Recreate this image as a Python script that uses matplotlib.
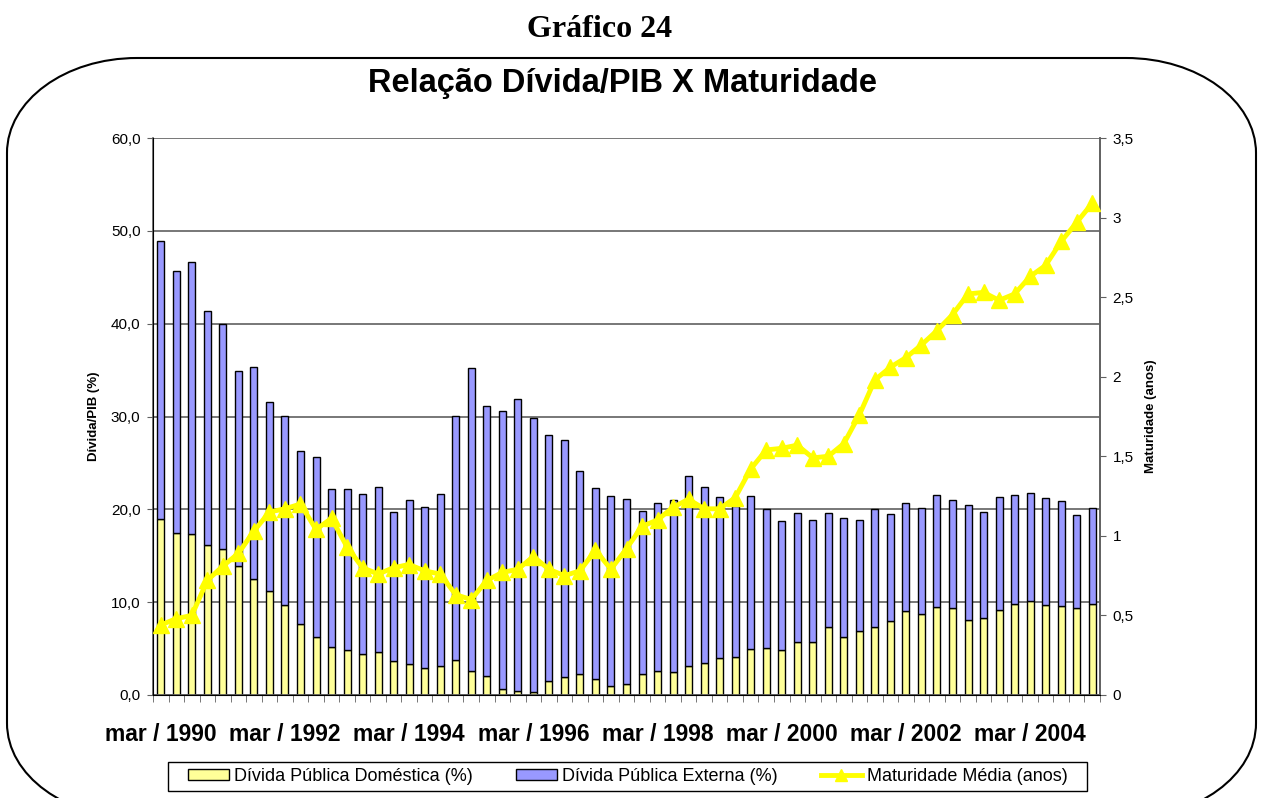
import numpy as np
import matplotlib
matplotlib.use('Agg')
from matplotlib import pyplot as plt
from matplotlib.patches import PathPatch, Rectangle
from matplotlib.path import Path
from matplotlib.lines import Line2D
from matplotlib.transforms import IdentityTransform

plt.rcParams['font.family'] = ['Liberation Sans', 'DejaVu Sans']

# quarterly data, mar/1990 .. mar/2005
months = ['mar', 'jun', 'set', 'dez']
quarters = ['%s / %d' % (months[i % 4], 1990 + i // 4) for i in range(61)]

domestica = [19.0, 17.5, 17.3, 16.2, 15.7, 13.9, 12.5, 11.2, 9.7, 7.6,
             6.2, 5.2, 4.8, 4.4, 4.6, 3.7, 3.3, 2.9, 3.1, 3.8,
             2.6, 2.1, 0.7, 0.4, 0.3, 1.5, 1.9, 2.3, 1.7, 1.0,
             1.2, 2.3, 2.6, 2.5, 3.1, 3.5, 4.0, 4.1, 5.0, 5.1,
             4.8, 5.7, 5.7, 7.3, 6.2, 6.9, 7.3, 8.0, 9.0, 8.7,
             9.5, 9.4, 8.1, 8.3, 9.2, 9.8, 10.1, 9.7, 9.6, 9.4,
             9.8]
externa = [29.9, 28.2, 29.3, 25.2, 24.3, 21.0, 22.8, 20.4, 20.4, 18.7,
           19.4, 17.0, 17.4, 17.3, 17.8, 16.0, 17.7, 17.3, 18.5, 26.3,
           32.6, 29.0, 29.9, 31.5, 29.5, 26.5, 25.6, 21.8, 20.6, 20.4,
           19.9, 17.5, 18.1, 18.5, 20.5, 18.9, 17.3, 16.3, 16.4, 14.9,
           13.9, 13.9, 13.2, 12.3, 12.9, 11.9, 12.7, 11.5, 11.7, 11.4,
           12.0, 11.6, 12.4, 11.4, 12.1, 11.7, 11.7, 11.5, 11.3, 10.0,
           10.3]
maturidade = [0.44, 0.48, 0.50, 0.72, 0.81, 0.89, 1.03, 1.15, 1.17, 1.20,
              1.04, 1.11, 0.93, 0.80, 0.76, 0.80, 0.82, 0.78, 0.76, 0.63,
              0.60, 0.72, 0.77, 0.79, 0.87, 0.79, 0.75, 0.78, 0.91, 0.79,
              0.92, 1.06, 1.10, 1.18, 1.23, 1.17, 1.17, 1.24, 1.42, 1.54,
              1.55, 1.57, 1.49, 1.50, 1.58, 1.76, 1.98, 2.06, 2.12, 2.20,
              2.29, 2.39, 2.52, 2.53, 2.48, 2.52, 2.63, 2.70, 2.85, 2.97,
              3.09]

c_dom = '#FFFF99'
c_ext = '#9999FF'
c_mat = '#FFFF00'
c_axis = '#606060'

W, H = 1261, 798
fig = plt.figure(figsize=(W / 100, H / 100), dpi=100)


def rounded_frame(x0, y0, x1, y1, rx, ry):
    # rectangle with elliptical corners, pixel coords
    k = 0.5523
    verts = [(x0 + rx, y0), (x1 - rx, y0),
             (x1 - rx + k * rx, y0), (x1, y0 + ry - k * ry), (x1, y0 + ry),
             (x1, y1 - ry),
             (x1, y1 - ry + k * ry), (x1 - rx + k * rx, y1), (x1 - rx, y1),
             (x0 + rx, y1),
             (x0 + rx - k * rx, y1), (x0, y1 - ry + k * ry), (x0, y1 - ry),
             (x0, y0 + ry),
             (x0, y0 + ry - k * ry), (x0 + rx - k * rx, y0), (x0 + rx, y0)]
    codes = [Path.MOVETO, Path.LINETO,
             Path.CURVE4, Path.CURVE4, Path.CURVE4,
             Path.LINETO,
             Path.CURVE4, Path.CURVE4, Path.CURVE4,
             Path.LINETO,
             Path.CURVE4, Path.CURVE4, Path.CURVE4,
             Path.LINETO,
             Path.CURVE4, Path.CURVE4, Path.CURVE4]
    return Path(verts, codes)


frame = PathPatch(rounded_frame(7, -20, 1256, 740, 130, 95), transform=IdentityTransform(),
                  facecolor='none', edgecolor='black', linewidth=1.5)
fig.patches.append(frame)

fig.text(600 / W, 1 - 37 / H, 'Gráfico 24', ha='center', va='baseline',
         fontsize=23, fontweight='bold', family=['Liberation Serif', 'DejaVu Serif'])
fig.text(623 / W, 1 - 92 / H, 'Relação Dívida/PIB X Maturidade', ha='center', va='baseline',
         fontsize=23.5, fontweight='bold')

ax = fig.add_axes([153 / W, 103 / H, 947 / W, 557 / H])
x = np.arange(len(quarters))
w = 0.45
ax.bar(x, domestica, w, color=c_dom, edgecolor='black', linewidth=1, zorder=2)
ax.bar(x, externa, w, bottom=domestica, color=c_ext, edgecolor='black', linewidth=1, zorder=2)

ax.set_xlim(-0.5, len(quarters) - 0.5)
ax.set_ylim(0, 60)
ax.set_yticks(np.arange(0, 61, 10))
ax.yaxis.set_major_formatter(plt.FuncFormatter(lambda v, p: ('%.1f' % v).replace('.', ',')))
ax.grid(axis='y', color=c_axis, linewidth=1.2, zorder=0)
ax.set_axisbelow(True)
ax.set_ylabel('Dívida/PIB (%)', fontsize=9.5, fontweight='bold', labelpad=8)
ax.tick_params(axis='y', labelsize=11, direction='out', length=4, pad=5, color=c_axis)

ax.set_xticks(x[::8])
ax.set_xticklabels(quarters[::8], fontsize=16.5, fontweight='bold')
ax.set_xticks(np.arange(-0.5, len(quarters), 1), minor=True)
ax.tick_params(axis='x', which='major', length=0, pad=20)
ax.tick_params(axis='x', which='minor', length=5, direction='out', color=c_axis)

ax.spines['top'].set_visible(False)
for s in ['left', 'bottom', 'right']:
    ax.spines[s].set_color(c_axis)
    ax.spines[s].set_linewidth(1.2)

ax2 = ax.twinx()
ax2.plot(x, maturidade, color=c_mat, linewidth=3.5, marker='^', markersize=11,
         markeredgecolor=c_mat, zorder=3)
ax2.set_ylim(0, 3.5)
ax2.set_yticks(np.arange(0, 3.51, 0.5))
ax2.yaxis.set_major_formatter(plt.FuncFormatter(lambda v, p: ('%g' % v).replace('.', ',')))
ax2.tick_params(axis='y', labelsize=11, direction='out', length=4, pad=5, color=c_axis)
ax2.set_ylabel('Maturidade (anos)', fontsize=9.5, fontweight='bold', labelpad=8)
ax2.spines['top'].set_visible(False)
ax2.spines['right'].set_color(c_axis)
ax2.spines['right'].set_linewidth(1.2)

# legend box drawn separately so its size can be fixed
box = Rectangle((168, 7), 919, 29, transform=IdentityTransform(),
                facecolor='white', edgecolor='black', linewidth=1.0)
fig.patches.append(box)
handles = [
    Rectangle((0, 0), 1, 1, facecolor=c_dom, edgecolor='black'),
    Rectangle((0, 0), 1, 1, facecolor=c_ext, edgecolor='black'),
    Line2D([], [], color=c_mat, linewidth=3.5, marker='^', markersize=9),
]
labels = ['Dívida Pública Doméstica (%)', 'Dívida Pública Externa (%)', 'Maturidade Média (anos)']
leg = fig.legend(handles, labels, loc='center', ncol=3, numpoints=1,
                 bbox_to_anchor=(627.5 / W, 21.5 / H), fontsize=13, frameon=False,
                 handlelength=2.3, handleheight=0.5, handletextpad=0.25,
                 columnspacing=2.4, borderpad=0.2)

fig.savefig('out.png', dpi=100)
